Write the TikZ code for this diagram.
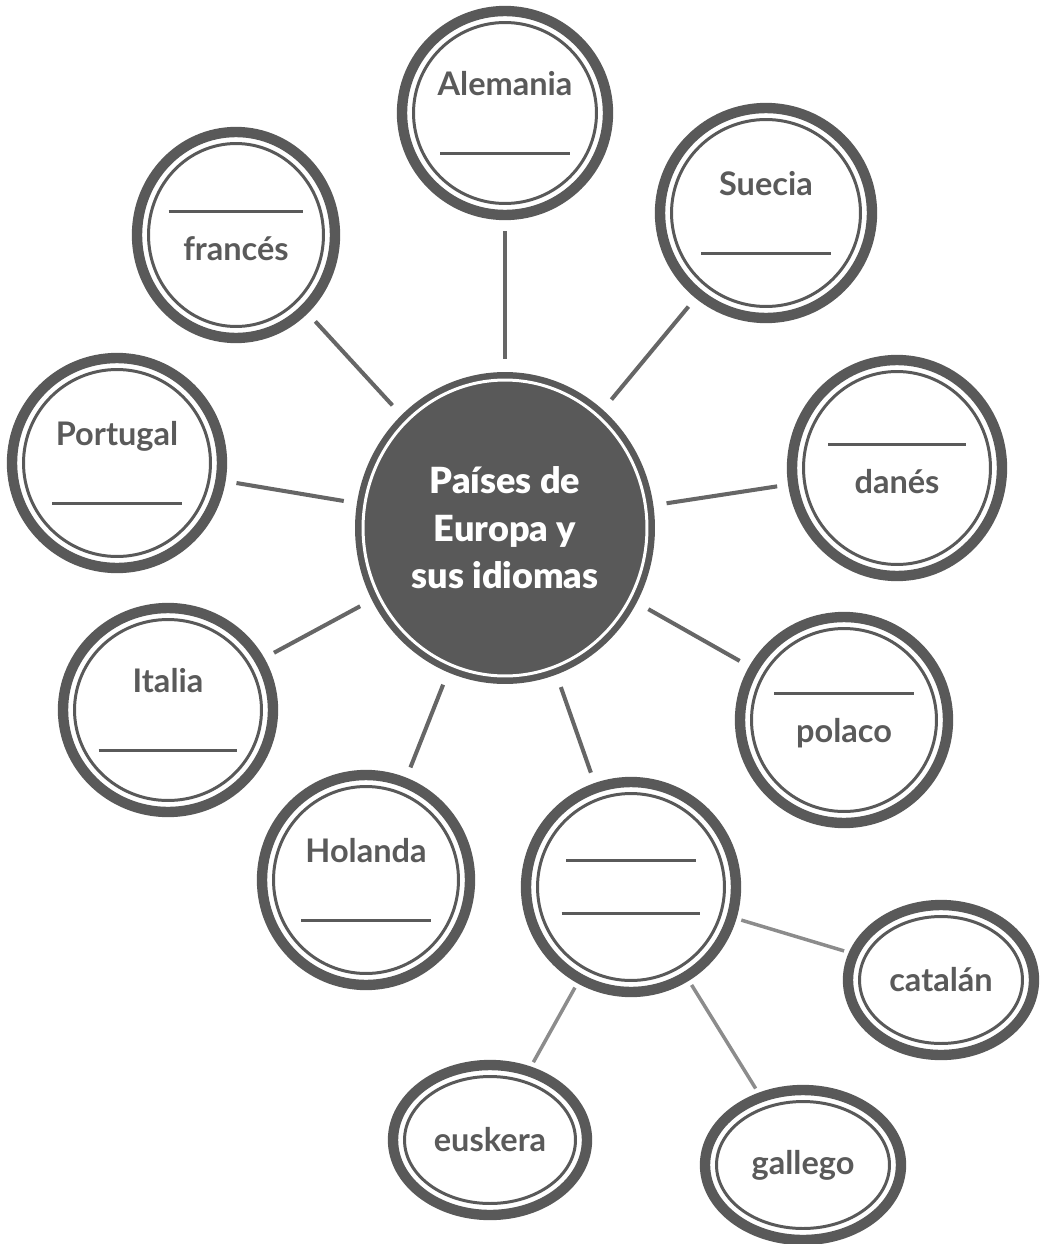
\documentclass[tikz,border=0pt]{standalone}
\usepackage{fontspec}
\setmainfont{Lato}
\newfontfamily\hubfont{Lato Black}
\usepackage{tikz}
\usetikzlibrary{shapes.geometric,calc}

\definecolor{ringgray}{HTML}{595959}
\definecolor{textgray}{HTML}{5A5A5A}
\definecolor{linkgray}{HTML}{666666}
\definecolor{sublinkgray}{HTML}{8C8C8C}

\newcommand{\lineblank}[1][2.6cm]{\rule{#1}{1.7pt}}

\begin{document}
\begin{tikzpicture}[x=0.02cm,y=-0.02cm]
      \tikzstyle{ring}=[ellipse,draw=ringgray,line width=5.9pt,fill=white,inner sep=0pt,
        minimum width=4.2cm,minimum height=4.2cm,align=center,text=textgray,
        font=\bfseries\fontsize{18.5}{21}\selectfont,
        path picture={\draw[ringgray,line width=1.7pt]
          let \p1=($(path picture bounding box.north east)-(path picture bounding box.center)$)
          in (path picture bounding box.center) ellipse [x radius=\x1-0.23cm,y radius=\y1-0.23cm];}]
      \tikzstyle{hub}=[ellipse,fill=ringgray,inner sep=0pt,minimum width=6cm,minimum height=6.24cm,
        align=center,text=white,font=\hubfont\fontsize{20.5}{27}\selectfont,
        path picture={\draw[white,line width=1.7pt]
          let \p1=($(path picture bounding box.north east)-(path picture bounding box.center)$)
          in (path picture bounding box.center) ellipse [x radius=\x1-0.16cm,y radius=\y1-0.16cm];}]
      \tikzstyle{link}=[draw=linkgray,line width=2.3pt,shorten <=0.26cm,shorten >=0.22cm]
      \tikzstyle{sublink}=[draw=sublinkgray,line width=2pt,shorten <=0.1cm,shorten >=0.1cm]

      \useasboundingbox (0,0) rectangle (1041,1244);

      % centre
      \node[hub] (hub) at (505,528) {Países de\\Europa y\\sus idiomas};

      % countries
      \node[ring,minimum width=4.12cm,minimum height=4.08cm] (alemania) at (505,113) {Alemania\\[13pt]\lineblank};
      \node[ring,minimum width=4.24cm] (suecia) at (766,213) {Suecia\\[13pt]\lineblank};
      \node[ring,minimum width=3.96cm,minimum height=4.12cm] (frances) at (236,235) {\lineblank[2.7cm]\\[6pt]francés};
      \node[ring] (portugal) at (117,463) {Portugal\\[13pt]\lineblank};
      \node[ring,minimum height=4.32cm] (danes) at (897,468) {\lineblank[2.76cm]\\[6pt]danés};
      \node[ring,minimum height=4.08cm] (italia) at (168,710) {Italia\\[13pt]\lineblank[2.78cm]};
      \node[ring,minimum width=4.16cm] (holanda) at (366,880) {Holanda\\[13pt]\lineblank};
      \node[ring,minimum width=4.16cm,minimum height=4.12cm] (polaco) at (844,720) {\lineblank[2.8cm]\\[6pt]polaco};
      \node[ring] (espana) at (631,887) {\lineblank\\[9pt]\lineblank[2.78cm]};

      % languages of Spain
      \node[ring,minimum width=3.72cm,minimum height=3cm] (catalan) at (941,980) {catalán};
      \node[ring,minimum width=3.92cm,minimum height=3cm] (gallego) at (803,1165) {gallego};
      \node[ring,minimum width=3.88cm,minimum height=3cm] (euskera) at (490,1140) {euskera};

      \draw[link] (hub) -- (alemania);
      \draw[link] (hub) -- (suecia);
      \draw[link] (hub) -- (frances);
      \draw[link] (hub) -- (portugal);
      \draw[link] (hub) -- (danes);
      \draw[link] (hub) -- (italia);
      \draw[link] (hub) -- (holanda);
      \draw[link] (hub) -- (polaco);
      \draw[link] (hub) -- (espana);

      \draw[sublink] (espana) -- (catalan);
      \draw[sublink] (espana) -- (gallego);
      \draw[sublink] (espana) -- (euskera);

    \end{tikzpicture}
\end{document}
